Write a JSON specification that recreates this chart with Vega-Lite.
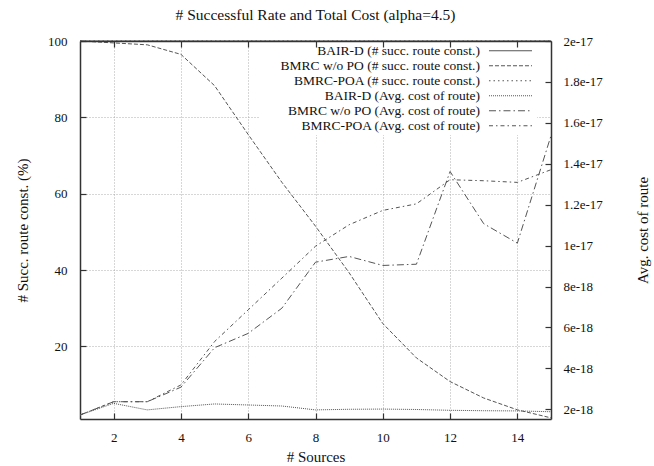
{
  "$schema": "https://vega.github.io/schema/vega-lite/v6.json",
  "width": 471,
  "height": 378,
  "autosize": "none",
  "padding": {"left": 80, "top": 41, "right": 103, "bottom": 47},
  "background": "white",
  "config": {
    "font": "Liberation Serif",
    "view": {"stroke": null},
    "axis": {
      "labelFont": "Liberation Serif", "titleFont": "Liberation Serif",
      "labelFontSize": 13, "titleFontSize": 15, "titleFontWeight": "normal",
      "labelColor": "#111", "titleColor": "#111",
      "domainColor": "#333", "domainWidth": 1.5, "tickColor": "#333", "tickWidth": 1.2,
      "gridColor": "#999", "gridDash": [1, 2], "gridWidth": 0.8,
      "labelFlush": false, "labelOverlap": false
    }
  },
  "title": {
    "text": "# Successful Rate and Total Cost (alpha=4.5)",
    "anchor": "middle", "frame": "group", "fontSize": 15.5, "fontWeight": "normal",
    "font": "Liberation Serif", "color": "#111", "offset": 12
  },
  "data": {"values": [
    {"x": 1, "series": "BAIR-D (# succ. route const.)", "kind": "succ", "v": 100},
    {"x": 2, "series": "BAIR-D (# succ. route const.)", "kind": "succ", "v": 100},
    {"x": 3, "series": "BAIR-D (# succ. route const.)", "kind": "succ", "v": 100},
    {"x": 4, "series": "BAIR-D (# succ. route const.)", "kind": "succ", "v": 100},
    {"x": 5, "series": "BAIR-D (# succ. route const.)", "kind": "succ", "v": 100},
    {"x": 6, "series": "BAIR-D (# succ. route const.)", "kind": "succ", "v": 100},
    {"x": 7, "series": "BAIR-D (# succ. route const.)", "kind": "succ", "v": 100},
    {"x": 8, "series": "BAIR-D (# succ. route const.)", "kind": "succ", "v": 100},
    {"x": 9, "series": "BAIR-D (# succ. route const.)", "kind": "succ", "v": 100},
    {"x": 10, "series": "BAIR-D (# succ. route const.)", "kind": "succ", "v": 100},
    {"x": 11, "series": "BAIR-D (# succ. route const.)", "kind": "succ", "v": 100},
    {"x": 12, "series": "BAIR-D (# succ. route const.)", "kind": "succ", "v": 100},
    {"x": 13, "series": "BAIR-D (# succ. route const.)", "kind": "succ", "v": 100},
    {"x": 14, "series": "BAIR-D (# succ. route const.)", "kind": "succ", "v": 100},
    {"x": 15, "series": "BAIR-D (# succ. route const.)", "kind": "succ", "v": 100},
    {"x": 1, "series": "BMRC w/o PO (# succ. route const.)", "kind": "succ", "v": 100},
    {"x": 2, "series": "BMRC w/o PO (# succ. route const.)", "kind": "succ", "v": 99.5},
    {"x": 3, "series": "BMRC w/o PO (# succ. route const.)", "kind": "succ", "v": 99},
    {"x": 4, "series": "BMRC w/o PO (# succ. route const.)", "kind": "succ", "v": 96.5},
    {"x": 5, "series": "BMRC w/o PO (# succ. route const.)", "kind": "succ", "v": 88.3},
    {"x": 6, "series": "BMRC w/o PO (# succ. route const.)", "kind": "succ", "v": 75.5},
    {"x": 7, "series": "BMRC w/o PO (# succ. route const.)", "kind": "succ", "v": 63},
    {"x": 8, "series": "BMRC w/o PO (# succ. route const.)", "kind": "succ", "v": 51.5},
    {"x": 9, "series": "BMRC w/o PO (# succ. route const.)", "kind": "succ", "v": 39.3},
    {"x": 10, "series": "BMRC w/o PO (# succ. route const.)", "kind": "succ", "v": 26},
    {"x": 11, "series": "BMRC w/o PO (# succ. route const.)", "kind": "succ", "v": 17},
    {"x": 12, "series": "BMRC w/o PO (# succ. route const.)", "kind": "succ", "v": 10.8},
    {"x": 13, "series": "BMRC w/o PO (# succ. route const.)", "kind": "succ", "v": 6.5},
    {"x": 14, "series": "BMRC w/o PO (# succ. route const.)", "kind": "succ", "v": 3.4},
    {"x": 15, "series": "BMRC w/o PO (# succ. route const.)", "kind": "succ", "v": 1.3},
    {"x": 1, "series": "BMRC-POA (# succ. route const.)", "kind": "succ", "v": 100},
    {"x": 2, "series": "BMRC-POA (# succ. route const.)", "kind": "succ", "v": 100},
    {"x": 3, "series": "BMRC-POA (# succ. route const.)", "kind": "succ", "v": 100},
    {"x": 4, "series": "BMRC-POA (# succ. route const.)", "kind": "succ", "v": 100},
    {"x": 5, "series": "BMRC-POA (# succ. route const.)", "kind": "succ", "v": 100},
    {"x": 6, "series": "BMRC-POA (# succ. route const.)", "kind": "succ", "v": 100},
    {"x": 7, "series": "BMRC-POA (# succ. route const.)", "kind": "succ", "v": 100},
    {"x": 8, "series": "BMRC-POA (# succ. route const.)", "kind": "succ", "v": 100},
    {"x": 9, "series": "BMRC-POA (# succ. route const.)", "kind": "succ", "v": 100},
    {"x": 10, "series": "BMRC-POA (# succ. route const.)", "kind": "succ", "v": 100},
    {"x": 11, "series": "BMRC-POA (# succ. route const.)", "kind": "succ", "v": 100},
    {"x": 12, "series": "BMRC-POA (# succ. route const.)", "kind": "succ", "v": 100},
    {"x": 13, "series": "BMRC-POA (# succ. route const.)", "kind": "succ", "v": 100},
    {"x": 14, "series": "BMRC-POA (# succ. route const.)", "kind": "succ", "v": 100},
    {"x": 15, "series": "BMRC-POA (# succ. route const.)", "kind": "succ", "v": 100},
    {"x": 1, "series": "BAIR-D (Avg. cost of route)", "kind": "cost", "v": 1.72e-18},
    {"x": 2, "series": "BAIR-D (Avg. cost of route)", "kind": "cost", "v": 2.29e-18},
    {"x": 3, "series": "BAIR-D (Avg. cost of route)", "kind": "cost", "v": 1.97e-18},
    {"x": 4, "series": "BAIR-D (Avg. cost of route)", "kind": "cost", "v": 2.13e-18},
    {"x": 5, "series": "BAIR-D (Avg. cost of route)", "kind": "cost", "v": 2.26e-18},
    {"x": 6, "series": "BAIR-D (Avg. cost of route)", "kind": "cost", "v": 2.21e-18},
    {"x": 7, "series": "BAIR-D (Avg. cost of route)", "kind": "cost", "v": 2.16e-18},
    {"x": 8, "series": "BAIR-D (Avg. cost of route)", "kind": "cost", "v": 1.97e-18},
    {"x": 9, "series": "BAIR-D (Avg. cost of route)", "kind": "cost", "v": 2.0e-18},
    {"x": 10, "series": "BAIR-D (Avg. cost of route)", "kind": "cost", "v": 2.01e-18},
    {"x": 11, "series": "BAIR-D (Avg. cost of route)", "kind": "cost", "v": 1.99e-18},
    {"x": 12, "series": "BAIR-D (Avg. cost of route)", "kind": "cost", "v": 1.95e-18},
    {"x": 13, "series": "BAIR-D (Avg. cost of route)", "kind": "cost", "v": 1.93e-18},
    {"x": 14, "series": "BAIR-D (Avg. cost of route)", "kind": "cost", "v": 1.92e-18},
    {"x": 15, "series": "BAIR-D (Avg. cost of route)", "kind": "cost", "v": 1.88e-18},
    {"x": 1, "series": "BMRC w/o PO (Avg. cost of route)", "kind": "cost", "v": 1.72e-18},
    {"x": 2, "series": "BMRC w/o PO (Avg. cost of route)", "kind": "cost", "v": 2.37e-18},
    {"x": 3, "series": "BMRC w/o PO (Avg. cost of route)", "kind": "cost", "v": 2.37e-18},
    {"x": 4, "series": "BMRC w/o PO (Avg. cost of route)", "kind": "cost", "v": 3.08e-18},
    {"x": 5, "series": "BMRC w/o PO (Avg. cost of route)", "kind": "cost", "v": 5.01e-18},
    {"x": 6, "series": "BMRC w/o PO (Avg. cost of route)", "kind": "cost", "v": 5.71e-18},
    {"x": 7, "series": "BMRC w/o PO (Avg. cost of route)", "kind": "cost", "v": 6.94e-18},
    {"x": 8, "series": "BMRC w/o PO (Avg. cost of route)", "kind": "cost", "v": 9.19e-18},
    {"x": 9, "series": "BMRC w/o PO (Avg. cost of route)", "kind": "cost", "v": 9.47e-18},
    {"x": 10, "series": "BMRC w/o PO (Avg. cost of route)", "kind": "cost", "v": 9.03e-18},
    {"x": 11, "series": "BMRC w/o PO (Avg. cost of route)", "kind": "cost", "v": 9.09e-18},
    {"x": 12, "series": "BMRC w/o PO (Avg. cost of route)", "kind": "cost", "v": 1.362e-17},
    {"x": 13, "series": "BMRC w/o PO (Avg. cost of route)", "kind": "cost", "v": 1.107e-17},
    {"x": 14, "series": "BMRC w/o PO (Avg. cost of route)", "kind": "cost", "v": 1.012e-17},
    {"x": 15, "series": "BMRC w/o PO (Avg. cost of route)", "kind": "cost", "v": 1.537e-17},
    {"x": 1, "series": "BMRC-POA (Avg. cost of route)", "kind": "cost", "v": 1.72e-18},
    {"x": 2, "series": "BMRC-POA (Avg. cost of route)", "kind": "cost", "v": 2.37e-18},
    {"x": 3, "series": "BMRC-POA (Avg. cost of route)", "kind": "cost", "v": 2.37e-18},
    {"x": 4, "series": "BMRC-POA (Avg. cost of route)", "kind": "cost", "v": 3.19e-18},
    {"x": 5, "series": "BMRC-POA (Avg. cost of route)", "kind": "cost", "v": 5.31e-18},
    {"x": 6, "series": "BMRC-POA (Avg. cost of route)", "kind": "cost", "v": 6.86e-18},
    {"x": 7, "series": "BMRC-POA (Avg. cost of route)", "kind": "cost", "v": 8.41e-18},
    {"x": 8, "series": "BMRC-POA (Avg. cost of route)", "kind": "cost", "v": 9.97e-18},
    {"x": 9, "series": "BMRC-POA (Avg. cost of route)", "kind": "cost", "v": 1.102e-17},
    {"x": 10, "series": "BMRC-POA (Avg. cost of route)", "kind": "cost", "v": 1.172e-17},
    {"x": 11, "series": "BMRC-POA (Avg. cost of route)", "kind": "cost", "v": 1.204e-17},
    {"x": 12, "series": "BMRC-POA (Avg. cost of route)", "kind": "cost", "v": 1.322e-17},
    {"x": 13, "series": "BMRC-POA (Avg. cost of route)", "kind": "cost", "v": 1.317e-17},
    {"x": 14, "series": "BMRC-POA (Avg. cost of route)", "kind": "cost", "v": 1.309e-17},
    {"x": 15, "series": "BMRC-POA (Avg. cost of route)", "kind": "cost", "v": 1.371e-17}
  ]},
  "layer": [
    {
      "transform": [{"filter": "datum.kind == 'succ'"}],
      "mark": {"type": "line", "color": "#555", "strokeWidth": 1},
      "encoding": {
        "x": {"field": "x", "type": "quantitative",
          "scale": {"domain": [1, 15], "nice": false, "zero": false},
          "axis": {"orient": "bottom", "title": "# Sources", "values": [2, 4, 6, 8, 10, 12, 14],
            "tickSize": -6, "labelPadding": 18, "titlePadding": 5, "grid": true, "zindex": 0}},
        "y": {"field": "v", "type": "quantitative",
          "scale": {"domain": [1, 100], "nice": false, "zero": false},
          "axis": {"orient": "left", "title": "# Succ. route const. (%)", "values": [20, 40, 60, 80, 100],
            "tickSize": -6, "labelPadding": 19, "titlePadding": 17, "grid": true, "zindex": 0}},
        "strokeDash": {"field": "series", "type": "nominal",
          "scale": {
            "domain": ["BAIR-D (# succ. route const.)", "BMRC w/o PO (# succ. route const.)", "BMRC-POA (# succ. route const.)", "BAIR-D (Avg. cost of route)", "BMRC w/o PO (Avg. cost of route)", "BMRC-POA (Avg. cost of route)"],
            "range": [[1, 0], [4, 2], [1.5, 3], [1, 1], [7, 3, 1.5, 3], [4, 3, 1.5, 3]]
          },
          "legend": {
            "orient": "none", "legendX": 180, "legendY": 1, "title": null,
            "fillColor": "white", "padding": 2,
            "labelAlign": "right", "labelOffset": -37.25, "symbolOffset": 241.75,
            "symbolType": "M-10,0H10", "symbolSize": 18.5, "symbolStrokeWidth": 1, "symbolStrokeColor": "#666",
            "labelFont": "Liberation Serif", "labelFontSize": 13.5, "labelColor": "#111", "labelLimit": 400,
            "rowPadding": 0
          }
        }
      }
    },
    {
      "transform": [{"filter": "datum.kind == 'cost'"}],
      "mark": {"type": "line", "color": "#555", "strokeWidth": 1},
      "encoding": {
        "x": {"field": "x", "type": "quantitative",
          "scale": {"domain": [1, 15], "nice": false, "zero": false},
          "axis": {"orient": "top", "title": null, "labels": false, "values": [2, 4, 6, 8, 10, 12, 14],
            "tickSize": -6, "grid": false, "zindex": 1}},
        "y": {"field": "v", "type": "quantitative",
          "scale": {"domain": [1.525e-18, 2e-17], "nice": false, "zero": false},
          "axis": {"orient": "right", "title": "Avg. cost of route", "format": "~e",
            "values": [2e-18, 4e-18, 6e-18, 8e-18, 1e-17, 1.2e-17, 1.4e-17, 1.6e-17, 1.8e-17, 2e-17],
            "tickSize": -6, "labelPadding": 18, "titlePadding": 48, "titleAngle": 270, "grid": false, "zindex": 1}},
        "strokeDash": {"field": "series", "type": "nominal"}
      }
    }
  ],
  "resolve": {"scale": {"y": "independent"}, "axis": {"x": "independent"}}
}
